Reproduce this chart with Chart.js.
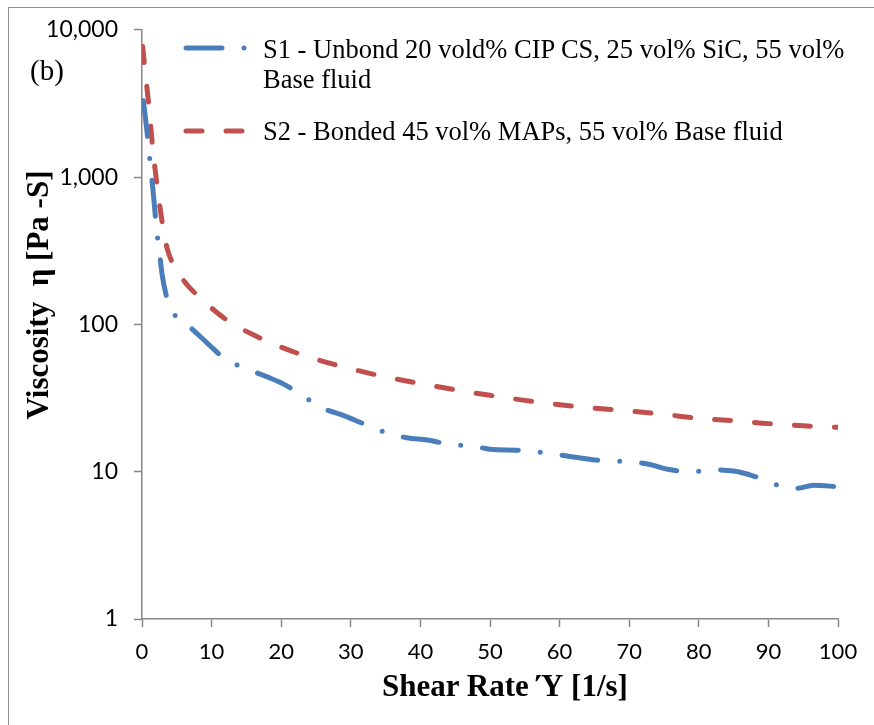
<!DOCTYPE html>
<html>
<head>
<meta charset="utf-8">
<script src="https://cdn.jsdelivr.net/npm/chart.js@4/dist/chart.umd.min.js"></script>
<style>
    body { margin: 0; background: #fff; }
    #wrap { position: relative; width: 874px; height: 725px; overflow: hidden; }
    #frame { position: absolute; left: 8px; top: 7px; right: -2px; bottom: -2px; border-top: 1.5px solid #8c8c8c; border-left: 1.5px solid #8c8c8c; }
    canvas { position: absolute; left: 0; top: 0; }
    .serif { position: absolute; font-family: "Liberation Serif", "Times New Roman", serif; color: #000; white-space: nowrap; }
    #panel { left: 30px; top: 54px; font-size: 29px; }
    #xtitle { left: 0; width: 1010px; top: 668px; text-align: center; font-size: 31px; font-weight: bold; }
    #ytitle { left: 38px; top: 295px; font-size: 31px; font-weight: bold; transform: translate(-50%, -50%) rotate(-90deg); }
    .leg { position: absolute; font-family: "Liberation Serif", "Times New Roman", serif; font-size: 26.5px; line-height: 30px; color: #000; white-space: nowrap; }
</style>
</head>
<body>
<div id="wrap">
    <div id="frame"></div>
    <canvas id="viscosity-chart" width="874" height="725"></canvas>
    <div class="serif" id="panel">(b)</div>
    <div class="serif" id="ytitle">Viscosity&nbsp;&nbsp;η [Pa -S]</div>
    <div class="serif" id="xtitle">Shear Rate Ύ [1/s]</div>
    <div class="leg" style="left:263px; top:34px;">S1 - Unbond 20 vold% CIP CS, 25 vol% SiC, 55 vol%<br>Base fluid</div>
    <div class="leg" style="left:263px; top:116px;">S2 - Bonded 45 vol% MAPs, 55 vol% Base fluid</div>
</div>
<script>
// shear rate [1/s] and viscosity [Pa-S]
const s1Rate = [0.2, 0.9, 1.2, 1.6, 2.1, 2.5, 2.9, 3.6, 4.6, 7.2, 9.6, 12, 15, 18, 20.5, 23, 26, 29, 32, 35, 38, 41, 44, 48, 50, 54, 57, 60, 63, 66, 70, 73, 75.5, 79, 82, 85, 88, 91, 94, 96.5, 100];
const s1Visc = [3300, 1700, 1200, 800, 440, 310, 217, 150, 118, 93, 73, 58, 50, 44, 39, 33, 27, 24, 21, 18.5, 17, 16.4, 15.4, 14.8, 14.2, 14, 13.6, 13, 12.4, 11.9, 11.7, 11.2, 10.4, 10, 10.3, 10.1, 9.3, 8.2, 7.7, 8.1, 7.9];

const s2Rate = [0.1, 0.4, 1, 1.5, 2.2, 3, 3.6, 4.6, 6.6, 8.2, 10.8, 13, 16, 20, 25, 30, 35, 40, 45, 50, 55, 60, 65, 70, 75, 80, 85, 90, 95, 100];
const s2Visc = [7700, 5500, 3000, 1650, 850, 460, 330, 250, 183, 154, 120, 101, 85, 70, 58, 50, 44, 39.6, 36, 33, 30.5, 28.5, 27, 25.8, 24.5, 23, 22.2, 21.2, 20.5, 20];

const yTicks = [1, 10, 100, 1000, 10000];
const seriesNames = ['S1 - Unbond 20 vold% CIP CS, 25 vol% SiC, 55 vol% Base fluid', 'S2 - Bonded 45 vol% MAPs, 55 vol% Base fluid'];

const BLUE = '#4a7ebb';
const RED = '#c0504d';
const AXIS = '#868686';

const S1_DASH = [36, 22, 0, 22];
const S2_DASH = [16, 24];

function pairs(xs, ys) {
    return xs.map((x, i) => ({ x: x, y: ys[i] }));
}

// small legend samples drawn next to the html labels
function addLegendSample(el, color, dash, y) {
    const c = document.createElement('canvas');
    c.width = 80;
    c.height = 30;
    c.style.position = 'absolute';
    c.style.left = '-80px';
    c.style.top = (y - 15) + 'px';
    const g = c.getContext('2d');
    g.strokeStyle = color;
    g.lineWidth = 5;
    g.lineCap = 'round';
    g.setLineDash(dash);
    g.beginPath();
    g.moveTo(3, 15);
    g.lineTo(70, 15);
    g.stroke();
    el.appendChild(c);
}

(function () {
    const legs = document.querySelectorAll('.leg');
    addLegendSample(legs[0], BLUE, S1_DASH, 14);
    addLegendSample(legs[1], RED, S2_DASH, 15);

    const ctx = document.getElementById('viscosity-chart').getContext('2d');
    new Chart(ctx, {
        type: 'line',
        data: {
            datasets: [
                {
                    label: seriesNames[0],
                    data: pairs(s1Rate, s1Visc),
                    borderColor: BLUE,
                    borderWidth: 5,
                    borderDash: S1_DASH,
                    borderCapStyle: 'round',
                    cubicInterpolationMode: 'monotone',
                    pointRadius: 0,
                    fill: false,
                },
                {
                    label: seriesNames[1],
                    data: pairs(s2Rate, s2Visc),
                    borderColor: RED,
                    borderWidth: 5,
                    borderDash: S2_DASH,
                    borderCapStyle: 'round',
                    cubicInterpolationMode: 'monotone',
                    pointRadius: 0,
                    fill: false,
                },
            ],
        },
        options: {
            responsive: false,
            animation: false,
            layout: { padding: { top: 23, right: 36, left: 0, bottom: 0 } },
            plugins: {
                legend: { display: false },
                tooltip: { enabled: false },
            },
            scales: {
                x: {
                    type: 'linear',
                    min: 0,
                    max: 100,
                    afterFit: scale => { scale.height = 106; },
                    border: { display: true, color: AXIS, width: 1.5 },
                    grid: { display: true, drawOnChartArea: false, drawTicks: true, tickLength: 8, tickColor: AXIS, tickWidth: 1.5 },
                    ticks: {
                        stepSize: 10,
                        padding: 12,
                        color: '#000',
                        maxRotation: 0,
                        font: { family: 'Lato', size: 22 },
                    },
                },
                y: {
                    type: 'logarithmic',
                    min: 1,
                    max: 10000,
                    afterFit: scale => { scale.width = 142; },
                    afterBuildTicks: scale => {
                        scale.ticks = yTicks.map(v => ({ value: v }));
                    },
                    border: { display: true, color: AXIS, width: 1.5 },
                    grid: { display: true, drawOnChartArea: false, drawTicks: true, tickLength: 8, tickColor: AXIS, tickWidth: 1.5 },
                    ticks: {
                        padding: 16,
                        color: '#000',
                        font: { family: 'Lato', size: 23 },
                        callback: v => Number(v).toLocaleString('en-US'),
                    },
                },
            },
        },
    });
})();
</script>
</body>
</html>
